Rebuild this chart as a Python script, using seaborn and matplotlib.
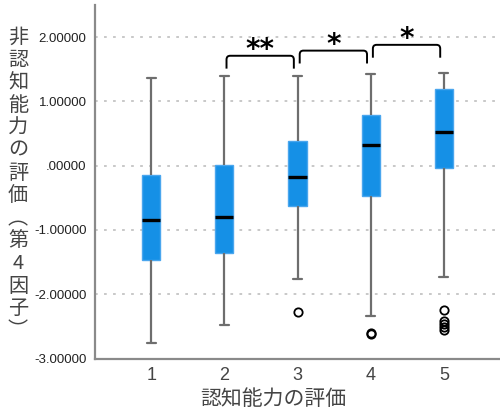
import numpy as np
import pandas as pd
import seaborn as sns
import matplotlib
matplotlib.use("Agg")
import matplotlib.pyplot as plt
from matplotlib.path import Path
from matplotlib.patches import PathPatch

# Summary statistics per cognitive-ability rating (factor 4 scores)
groups = ["1", "2", "3", "4", "5"]
upper_whisker = [1.37, 1.40, 1.39, 1.43, 1.44]
q3 = [-0.145, 0.005, 0.39, 0.79, 1.195]
median = [-0.84, -0.80, -0.18, 0.32, 0.525]
q1 = [-1.47, -1.355, -0.62, -0.47, -0.035]
lower_whisker = [-2.76, -2.48, -1.77, -2.34, -1.73]
outliers = [[], [], [-2.27], [-2.60, -2.62], [-2.25, -2.41, -2.46, -2.51, -2.56]]

y_ticks = [2, 1, 0, -1, -2, -3]
y_tick_labels = ["2.00000", "1.00000", ".00000", "-1.00000", "-2.00000", "-3.00000"]

# Pairwise comparisons between neighbouring ratings
pairs = [("2", "3", "**"), ("3", "4", "*"), ("4", "5", "*")]


def expand(lo, a, m, b, hi, extra):
    """Sample whose linear-interpolated quartiles equal (a, m, b)."""
    j = len(extra) + 1
    return sorted(extra) + [lo] + [a] * j + [m] * j + [b] * j + [hi]


rows = []
for g, lo, a, m, b, hi, ex in zip(groups, lower_whisker, q1, median, q3,
                                  upper_whisker, outliers):
    for v in expand(lo, a, m, b, hi, ex):
        rows.append({"rating": g, "score": v})
df = pd.DataFrame(rows)

sns.set_style("white")
plt.rcParams["font.family"] = ["Liberation Sans", "Noto Sans CJK JP", "DejaVu Sans"]
cjk = ["Noto Sans CJK JP", "DejaVu Sans"]

fig = plt.figure(figsize=(5.0, 4.15), dpi=100)
ax = fig.add_axes([0.19, 0.136, 0.81, 0.852])

box_blue = "#1590e6"
whisk = "#6e6e6e"
sns.boxplot(
    data=df, x="rating", y="score", order=groups, ax=ax,
    width=0.25, saturation=1, color=box_blue, linewidth=1.6,
    boxprops=dict(facecolor=box_blue, edgecolor="#4aa6ee", linewidth=1.0),
    whiskerprops=dict(color=whisk, linewidth=1.6),
    capprops=dict(color=whisk, linewidth=1.6),
    medianprops=dict(color="black", linewidth=2.4),
    flierprops=dict(marker="o", markerfacecolor="none", markeredgecolor="black",
                    markersize=6, markeredgewidth=1.3),
    zorder=3,
)

ax.set_ylim(-3, 2.5)
ax.set_xlim(-0.767, 4.767)
ax.set_yticks(y_ticks)
ax.set_yticklabels(y_tick_labels)
ax.tick_params(axis="y", length=0, pad=6, labelsize=9.5, labelcolor="#222222")
ax.tick_params(axis="x", length=0, pad=6, labelsize=13, labelcolor="#444444")
for y in [2, 1, 0, -1, -2]:
    ax.axhline(y, color="#c4c4c4", lw=1.3, ls=(0, (1.5, 3.5)), zorder=0)

for s in ["top", "right"]:
    ax.spines[s].set_visible(False)
for s in ["left", "bottom"]:
    ax.spines[s].set_color("#8a8a8a")
    ax.spines[s].set_linewidth(1.6)

ax.set_xlabel("")
ax.set_ylabel("")
fig.text(0.546, 0.038, "認知能力の評価", ha="center", va="center",
         fontsize=15, color="#444444", family=cjk)

ylabel_chars = "非認知能力の評価︵第4因子︶"
fig.text(0.036, 0.935, "\n".join(ylabel_chars), ha="center", va="top",
         fontsize=14.5, color="#444444", family=cjk, linespacing=1.1)

# Significance brackets
bracket_tops = [1.71, 1.79, 1.88]
bracket_drop = 0.2
rx, ry = 0.05, 0.06
for (ga, gb, label), top in zip(pairs, bracket_tops):
    x0 = groups.index(ga) + 0.03
    x1 = groups.index(gb) - 0.05
    bot = top - bracket_drop
    verts = [(x0, bot), (x0, top - ry), (x0, top), (x0 + rx, top),
             (x1 - rx, top), (x1, top), (x1, top - ry), (x1, bot)]
    codes = [Path.MOVETO, Path.LINETO, Path.CURVE3, Path.CURVE3,
             Path.LINETO, Path.CURVE3, Path.CURVE3, Path.LINETO]
    ax.add_patch(PathPatch(Path(verts, codes), facecolor="none",
                           edgecolor="black", lw=1.4, zorder=4))
    ax.text((x0 + x1) / 2, top - 0.04, label, ha="center", va="baseline",
            fontsize=20, fontweight="bold", color="black", family=["DejaVu Sans"])

fig.savefig("out.png", dpi=100)
